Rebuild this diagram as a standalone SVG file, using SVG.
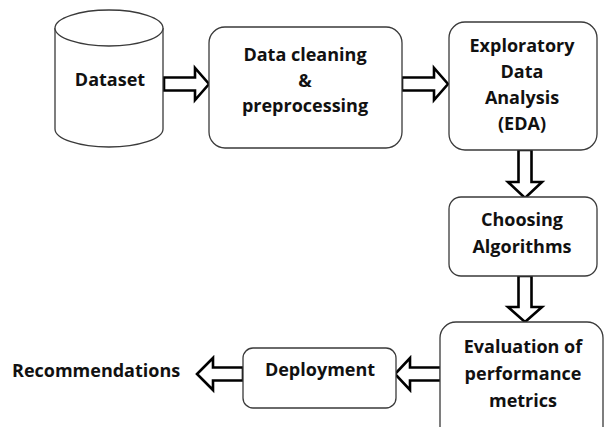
<svg xmlns="http://www.w3.org/2000/svg" width="605" height="427" viewBox="0 0 605 427">
  <style>
    .box { fill: #ffffff; stroke: #3a3a3a; stroke-width: 1.3; }
    .flow { fill: #ffffff; stroke: #000000; stroke-width: 2.6; stroke-linejoin: miter; }
    .lbl { font-family: "Open Sans", "Liberation Sans", sans-serif; font-weight: bold; font-size: 18px; fill: #111111; text-anchor: middle; }
  </style>
  <rect width="605" height="427" fill="#ffffff"/>

  <!-- pipeline arrows -->
  <g id="connectors">
    <polygon class="flow" points="164,77.5 195,77.5 195,68 209,84 195,100 195,90.5 164,90.5"/>
    <polygon class="flow" points="402,77.5 434,77.5 434,68 448,84 434,100 434,90.5 402,90.5"/>
    <polygon class="flow" points="518.5,150 531.5,150 531.5,182 542,182 525,198 508,182 518.5,182"/>
    <polygon class="flow" points="518.5,276 531.5,276 531.5,307 542,307 525,322 508,307 518.5,307"/>
    <polygon class="flow" points="441,367.5 410,367.5 410,358 395,374 410,390 410,380.5 441,380.5"/>
    <polygon class="flow" points="243,367.5 213,367.5 213,358 197,374 213,390 213,380.5 243,380.5"/>
  </g>

  <g id="dataset">
    <path class="box" d="M55,28 L55,129 A54,18 0 0 0 163,129 L163,28"/>
    <ellipse class="box" cx="109" cy="28" rx="54" ry="18"/>
    <text class="lbl" x="110" y="86">Dataset</text>
  </g>

  <g id="cleaning">
    <rect class="box" x="209" y="27" width="193" height="121" rx="16"/>
    <text class="lbl" x="305" y="61">Data cleaning</text>
    <text class="lbl" x="305" y="87">&amp;</text>
    <text class="lbl" x="305" y="112">preprocessing</text>
  </g>

  <g id="eda">
    <rect class="box" x="449" y="22" width="148" height="128" rx="16"/>
    <text class="lbl" x="522" y="52">Exploratory</text>
    <text class="lbl" x="522" y="78">Data</text>
    <text class="lbl" x="522" y="104">Analysis</text>
    <text class="lbl" x="522" y="130">(EDA)</text>
  </g>

  <g id="algorithms">
    <rect class="box" x="449" y="197" width="148" height="79" rx="12"/>
    <text class="lbl" x="522" y="226">Choosing</text>
    <text class="lbl" x="522" y="253">Algorithms</text>
  </g>

  <g id="evaluation">
    <rect class="box" x="440" y="322" width="163" height="125" rx="16"/>
    <text class="lbl" x="523" y="353">Evaluation of</text>
    <text class="lbl" x="523" y="380">performance</text>
    <text class="lbl" x="523" y="407">metrics</text>
  </g>

  <g id="deployment">
    <rect class="box" x="243" y="348" width="153" height="60" rx="10"/>
    <text class="lbl" x="320" y="376">Deployment</text>
  </g>

  <g id="recommendations">
    <text class="lbl" x="12" y="377" style="text-anchor: start">Recommendations</text>
  </g>
</svg>
